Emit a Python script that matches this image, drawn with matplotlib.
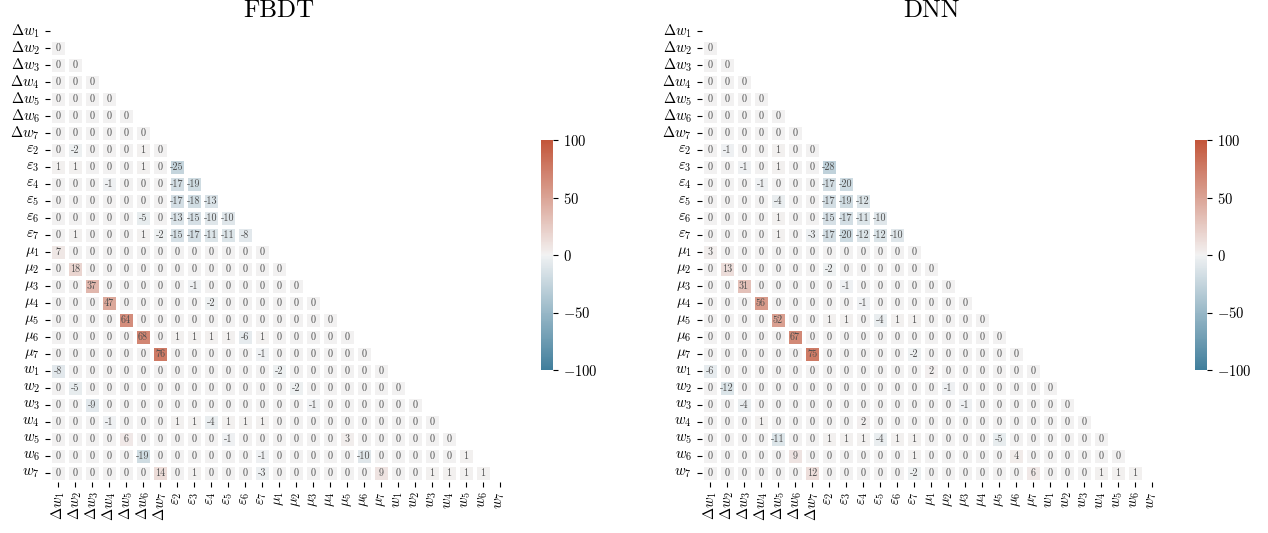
import numpy as np
import matplotlib
matplotlib.use("Agg")
import matplotlib.pyplot as plt
import seaborn as sns

plt.rcParams["font.family"] = "serif"
plt.rcParams["font.serif"] = ["cmr10"]
plt.rcParams["mathtext.fontset"] = "cm"
plt.rcParams["axes.formatter.use_mathtext"] = True

labels = ([r"$\Delta w_{%d}$" % i for i in range(1, 8)]
          + [r"$\varepsilon_{%d}$" % i for i in range(2, 8)]
          + [r"$\mu_{%d}$" % i for i in range(1, 8)]
          + [r"$w_{%d}$" % i for i in range(1, 8)])

titles = ["FBDT", "DNN"]

# lower-triangle rows (row i holds columns 0..i-1), values in %
fbdt_rows = [
    [],
    [0],
    [0, 0],
    [0, 0, 0],
    [0, 0, 0, 0],
    [0, 0, 0, 0, 0],
    [0, 0, 0, 0, 0, 0],
    [0, -2, 0, 0, 0, 1, 0],
    [1, 1, 0, 0, 0, 1, 0, -25],
    [0, 0, 0, -1, 0, 0, 0, -17, -19],
    [0, 0, 0, 0, 0, 0, 0, -17, -18, -13],
    [0, 0, 0, 0, 0, -5, 0, -13, -15, -10, -10],
    [0, 1, 0, 0, 0, 1, -2, -15, -17, -11, -11, -8],
    [7, 0, 0, 0, 0, 0, 0, 0, 0, 0, 0, 0, 0],
    [0, 18, 0, 0, 0, 0, 0, 0, 0, 0, 0, 0, 0, 0],
    [0, 0, 37, 0, 0, 0, 0, 0, -1, 0, 0, 0, 0, 0, 0],
    [0, 0, 0, 47, 0, 0, 0, 0, 0, -2, 0, 0, 0, 0, 0, 0],
    [0, 0, 0, 0, 64, 0, 0, 0, 0, 0, 0, 0, 0, 0, 0, 0, 0],
    [0, 0, 0, 0, 0, 68, 0, 1, 1, 1, 1, -6, 1, 0, 0, 0, 0, 0],
    [0, 0, 0, 0, 0, 0, 76, 0, 0, 0, 0, 0, -1, 0, 0, 0, 0, 0, 0],
    [-8, 0, 0, 0, 0, 0, 0, 0, 0, 0, 0, 0, 0, -2, 0, 0, 0, 0, 0, 0],
    [0, -5, 0, 0, 0, 0, 0, 0, 0, 0, 0, 0, 0, 0, -2, 0, 0, 0, 0, 0, 0],
    [0, 0, -9, 0, 0, 0, 0, 0, 0, 0, 0, 0, 0, 0, 0, -1, 0, 0, 0, 0, 0, 0],
    [0, 0, 0, -1, 0, 0, 0, 1, 1, -4, 1, 1, 1, 0, 0, 0, 0, 0, 0, 0, 0, 0, 0],
    [0, 0, 0, 0, 6, 0, 0, 0, 0, 0, -1, 0, 0, 0, 0, 0, 0, 3, 0, 0, 0, 0, 0, 0],
    [0, 0, 0, 0, 0, -19, 0, 0, 0, 0, 0, 0, -1, 0, 0, 0, 0, 0, -10, 0, 0, 0, 0, 0, 1],
    [0, 0, 0, 0, 0, 0, 14, 0, 1, 0, 0, 0, -3, 0, 0, 0, 0, 0, 0, 9, 0, 0, 1, 1, 1, 1],
]

dnn_rows = [
    [],
    [0],
    [0, 0],
    [0, 0, 0],
    [0, 0, 0, 0],
    [0, 0, 0, 0, 0],
    [0, 0, 0, 0, 0, 0],
    [0, -1, 0, 0, 1, 0, 0],
    [0, 0, -1, 0, 1, 0, 0, -28],
    [0, 0, 0, -1, 0, 0, 0, -17, -20],
    [0, 0, 0, 0, -4, 0, 0, -17, -19, -12],
    [0, 0, 0, 0, 1, 0, 0, -15, -17, -11, -10],
    [0, 0, 0, 0, 1, 0, -3, -17, -20, -12, -12, -10],
    [3, 0, 0, 0, 0, 0, 0, 0, 0, 0, 0, 0, 0],
    [0, 13, 0, 0, 0, 0, 0, -2, 0, 0, 0, 0, 0, 0],
    [0, 0, 31, 0, 0, 0, 0, 0, -1, 0, 0, 0, 0, 0, 0],
    [0, 0, 0, 56, 0, 0, 0, 0, 0, -1, 0, 0, 0, 0, 0, 0],
    [0, 0, 0, 0, 52, 0, 0, 1, 1, 0, -4, 1, 1, 0, 0, 0, 0],
    [0, 0, 0, 0, 0, 67, 0, 0, 0, 0, 0, 0, 0, 0, 0, 0, 0, 0],
    [0, 0, 0, 0, 0, 0, 75, 0, 0, 0, 0, 0, -2, 0, 0, 0, 0, 0, 0],
    [-6, 0, 0, 0, 0, 0, 0, 0, 0, 0, 0, 0, 0, 2, 0, 0, 0, 0, 0, 0],
    [0, -12, 0, 0, 0, 0, 0, 0, 0, 0, 0, 0, 0, 0, -1, 0, 0, 0, 0, 0, 0],
    [0, 0, -4, 0, 0, 0, 0, 0, 0, 0, 0, 0, 0, 0, 0, -1, 0, 0, 0, 0, 0, 0],
    [0, 0, 0, 1, 0, 0, 0, 0, 0, 2, 0, 0, 0, 0, 0, 0, 0, 0, 0, 0, 0, 0, 0],
    [0, 0, 0, 0, -11, 0, 0, 1, 1, 1, -4, 1, 1, 0, 0, 0, 0, -5, 0, 0, 0, 0, 0, 0],
    [0, 0, 0, 0, 0, 9, 0, 0, 0, 0, 0, 0, 1, 0, 0, 0, 0, 0, 4, 0, 0, 0, 0, 0, 0],
    [0, 0, 0, 0, 0, 0, 12, 0, 0, 0, 0, 0, -2, 0, 0, 0, 0, 0, 0, 6, 0, 0, 0, 1, 1, 1],
]

n = len(labels)


def to_matrix(rows):
    m = np.zeros((n, n))
    for i, r in enumerate(rows):
        assert len(r) == i, (i, len(r))
        m[i, :i] = r
    return m


cmap = sns.diverging_palette(230, 20, as_cmap=True)
W, H = 1268, 533
fig = plt.figure(figsize=(W / 100, H / 100), dpi=100)

heat_left = [49.5, 701.5]
cbar_left = [541, 1195]
for k, rows in enumerate([fbdt_rows, dnn_rows]):
    M = to_matrix(rows)
    mask = np.triu(np.ones_like(M, dtype=bool))
    ax = fig.add_axes([heat_left[k] / W, (H - 481.5) / H, 459 / W, 459 / H])
    cax = fig.add_axes([cbar_left[k] / W, (H - 370) / H, 12 / W, 230 / H])
    sns.heatmap(M, mask=mask, cmap=cmap, vmin=-100, vmax=100, center=0,
                square=True, linewidths=1.5, linecolor="white",
                annot=True, fmt=".0f",
                annot_kws={"size": 7.3, "color": "0.3"},
                xticklabels=labels, yticklabels=labels,
                ax=ax, cbar_ax=cax)
    ax.set_title(titles[k], fontsize=18, pad=1.5)
    ax.tick_params(axis="both", labelsize=10.5)
    plt.setp(ax.get_xticklabels(), rotation=90)
    plt.setp(ax.get_yticklabels(), rotation=0)
    cax.tick_params(labelsize=10.5)
    cax.set_yticks([-100, -50, 0, 50, 100])

fig.savefig("out.png", dpi=100)
